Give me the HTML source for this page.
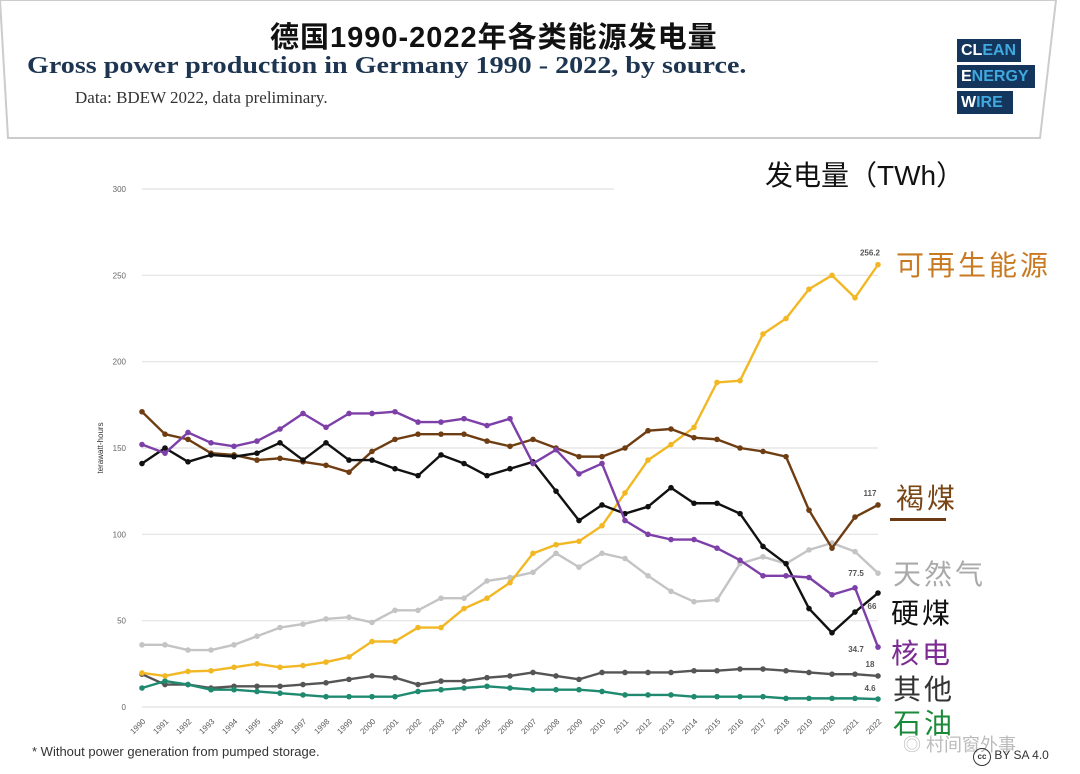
<!DOCTYPE html>
<html><head><meta charset="utf-8"><style>
body{margin:0;width:1080px;height:774px;background:#fff;overflow:hidden;position:relative;font-family:"Liberation Sans","Noto Sans CJK SC",sans-serif}
.abs{position:absolute;white-space:nowrap}
.cn{font-family:"Liberation Sans","Noto Sans CJK SC",sans-serif}
</style></head><body>
<svg class="abs" style="left:0;top:0" width="1080" height="145">
<polygon points="0,0 1056,0 1040,138 8,138" fill="#fff" stroke="#ccc" stroke-width="2"/>
</svg>
<div class="abs cn" style="left:270px;top:14px;font-size:29px;font-weight:bold;color:#111;letter-spacing:1px">德国1990-2022年各类能源发电量</div>
<div class="abs" style="left:27px;top:53px;font-family:'Liberation Serif',serif;font-size:24px;font-weight:bold;color:#1d3550;transform:scaleX(1.17);transform-origin:0 0">Gross power production in Germany 1990 - 2022, by source.</div>
<div class="abs" style="left:75px;top:88px;font-family:'Liberation Serif',serif;font-size:17px;color:#333">Data: BDEW 2022, data preliminary.</div>
<div class="abs" style="left:957px;top:39px;font-weight:bold;font-size:16px;color:#fff">
<div style="background:#14355c;width:60px;padding-left:4px;margin-bottom:3px;height:23px;line-height:23px">CL<span style="color:#3fa9e0">EAN</span></div>
<div style="background:#14355c;width:74px;padding-left:4px;margin-bottom:3px;height:23px;line-height:23px">E<span style="color:#3fa9e0">NERGY</span></div>
<div style="background:#14355c;width:52px;padding-left:4px;height:23px;line-height:23px">W<span style="color:#3fa9e0">IRE</span></div>
</div>
<div class="abs cn" style="left:765px;top:154px;font-size:28px;color:#111">发电量（TWh）</div>
<svg id="chart" class="abs" style="left:0;top:0" width="1080" height="774"></svg>
<div class="abs cn" style="left:896px;top:244px;font-size:28px;color:#c87a22;letter-spacing:3px">可再生能源</div>
<div class="abs cn" style="left:896px;top:477px;font-size:28px;color:#7a4515;letter-spacing:3px">褐煤</div>
<div class="abs" style="left:890px;top:518px;width:56px;height:3px;background:#6b3a12"></div>
<div class="abs cn" style="left:893px;top:553px;font-size:28px;color:#aaa;letter-spacing:3px">天然气</div>
<div class="abs cn" style="left:891px;top:592px;font-size:28px;color:#111;letter-spacing:3px">硬煤</div>
<div class="abs cn" style="left:891px;top:632px;font-size:28px;color:#7b2b91;letter-spacing:3px">核电</div>
<div class="abs cn" style="left:893px;top:668px;font-size:28px;color:#333;letter-spacing:3px">其他</div>
<div class="abs cn" style="left:893px;top:702px;font-size:28px;color:#1a8a3a;letter-spacing:3px">石油</div>
<div class="abs" style="left:32px;top:744px;font-size:13px;color:#333">* Without power generation from pumped storage.</div>
<div class="abs cn" style="left:903px;top:731px;font-size:18px;color:#bbb">◎ 村间窗外事</div>
<div class="abs" style="left:973px;top:748px;font-size:12px;color:#333"><span style="display:inline-block;width:16px;height:16px;border:1.5px solid #333;border-radius:50%;font-size:8px;text-align:center;line-height:16px;font-weight:bold">cc</span> BY SA 4.0</div>
<script>
const years=[1990,1991,1992,1993,1994,1995,1996,1997,1998,1999,2000,2001,2002,2003,2004,2005,2006,2007,2008,2009,2010,2011,2012,2013,2014,2015,2016,2017,2018,2019,2020,2021,2022];
const yTicks=[0,50,100,150,200,250,300];
const renewables=[19.7,18,20.6,21,23,25,23,24,26,29,37.9,38,46,46,57,63,72,89,94,96,105,124,143,152,162,188,189,216,225,242,250,237,256.2];
const lignite=[171,158,155,147,146,143,144,142,140,136,148,155,158,158,158,154,151,155,150,145,145,150,160,161,156,155,150,148,145,114,92,110,117];
const hardCoal=[141,150,142,146,145,147,153,143,153,143,143,138,134,146,141,134,138,142,125,108,117,112,116,127,118,118,112,93,83,57,43,55,66];
const nuclear=[152,147,159,153,151,154,161,170,162,170,170,171,165,165,167,163,167,141,149,135,141,108,100,97,97,92,85,76,76,75,65,69,34.7];
const gas=[36,36,33,33,36,41,46,48,51,52,49,56,56,63,63,73,75,78,89,81,89,86,76,67,61,62,83,87,83,91,95,90,77.5];
const other=[19,13,13,11,12,12,12,13,14,16,18,17,13,15,15,17,18,20,18,16,20,20,20,20,21,21,22,22,21,20,19,19,18];
const oil=[11,15,13,10,10,9,8,7,6,6,6,6,9,10,11,12,11,10,10,10,9,7,7,7,6,6,6,6,5,5,5,5,4.6];
const endLabels=["256.2","117","66","34.7","77.5","18","4.6"];
const NS="http://www.w3.org/2000/svg";
const svg=document.getElementById('chart');
const x=i=>142+i*(878-142)/(years.length-1);
const y=v=>707-v*(707-189)/300;
function mk(t,a){const e=document.createElementNS(NS,t);for(const k in a)e.setAttribute(k,a[k]);svg.appendChild(e);return e;}
yTicks.forEach(t=>{
 const g=mk('line',{x1:142,x2:t===300?614:878,y1:y(t),y2:y(t),stroke:'#e2e2e2','stroke-width':1.2});
 
 
 const l=mk('text',{x:126,y:y(t)+3,'font-size':8,fill:'#666','text-anchor':'end','font-family':'Liberation Sans'});
 l.textContent=t;
 
 
});
years.forEach((yr,i)=>{
 const tx=x(i), ty=722;
 const l=mk('text',{x:tx+4,y:ty,'font-size':8,fill:'#555','text-anchor':'end','font-family':'Liberation Sans',transform:`rotate(-45 ${tx+4} ${ty})`});
 l.textContent=yr;
 
 
});
const yl=mk('text',{x:0,y:0,'font-size':8,fill:'#333','text-anchor':'middle','font-family':'Liberation Sans',transform:'translate(103,448) rotate(-90)'});
yl.textContent='terawatt-hours';


const series=[
 ['other',other,'#555'],['oil',oil,'#1f8a70'],['gas',gas,'#c4c4c4'],['renewables',renewables,'#f2b824'],
 ['lignite',lignite,'#6e3d12'],['hard-coal',hardCoal,'#111'],['nuclear',nuclear,'#7d3fa8']];
series.forEach(([n,d,c])=>{
 const p=mk('polyline',{points:d.map((v,i)=>x(i)+','+y(v)).join(' '),fill:'none',stroke:c,'stroke-width':2.4,'stroke-linejoin':'round'});
 
 
 d.forEach((v,i)=>{
  const m=mk('circle',{cx:x(i),cy:y(v),r:2.8,fill:c});
  
  
 });
});
const last=years.length-1;
const lab=[[renewables,endLabels[0],-9,-8],[lignite,endLabels[1],-9,-8],[hardCoal,endLabels[2],16,-6],[nuclear,endLabels[3],5,-22],[gas,endLabels[4],3,-22],[other,endLabels[5],-9,-8],[oil,endLabels[6],-8,-8]];
lab.forEach(([d,t,dy,dx],k)=>{
 const l=mk('text',{x:x(last)+dx,y:y(d[last])+dy,'font-size':8,'font-weight':'bold',fill:'#555','text-anchor':'middle','font-family':'Liberation Sans'});
 l.textContent=t;
 
 
});
</script>
</body></html>
